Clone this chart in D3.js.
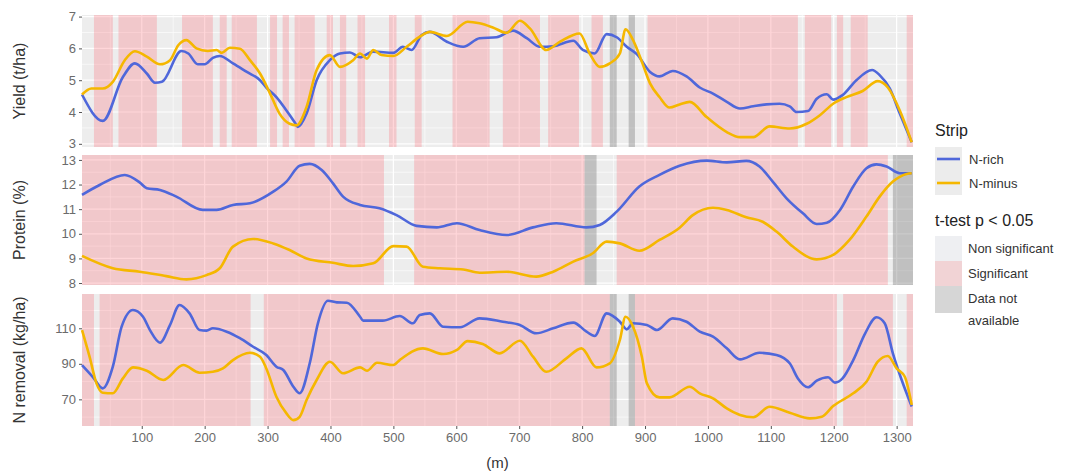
<!DOCTYPE html>
<html>
<head>
<meta charset="utf-8">
<script src="https://cdn.jsdelivr.net/npm/d3@7"></script>
<style>
  body { margin: 0; background: #fff; }
  svg text { font-family: "Liberation Sans", Arial, sans-serif; }
</style>
</head>
<body>
<script>
// distance along the strip (m)
var xTicks = [100, 200, 300, 400, 500, 600, 700, 800, 900, 1000, 1100, 1200, 1300];

// strips: [from, to, status]  s = significant, n = non significant, na = data not available
var yieldStrips = [[5,24,"n"],[24,54,"s"],[54,63,"n"],[63,124,"s"],[124,164,"n"],[164,213,"s"],[213,224,"n"],[224,235,"s"],[235,243,"n"],[243,283,"s"],[283,304,"n"],[304,315,"s"],[315,324,"n"],[324,334,"s"],[334,343,"n"],[343,375,"s"],[375,394,"n"],[394,404,"s"],[404,415,"n"],[415,425,"s"],[425,443,"n"],[443,455,"s"],[455,493,"n"],[493,505,"s"],[505,534,"n"],[534,545,"s"],[545,594,"n"],[594,653,"s"],[653,674,"n"],[674,733,"s"],[733,746,"n"],[746,795,"s"],[795,815,"n"],[815,833,"s"],[833,844,"n"],[844,855,"na"],[855,874,"n"],[874,884,"na"],[884,904,"n"],[904,1143,"s"],[1143,1154,"n"],[1154,1196,"s"],[1196,1205,"n"],[1205,1215,"s"],[1215,1227,"n"],[1227,1254,"s"],[1254,1316,"n"],[1316,1326,"s"]];
var proteinStrips = [[5,485,"s"],[485,533,"n"],[533,804,"s"],[804,823,"na"],[823,855,"n"],[855,1286,"s"],[1286,1294,"n"],[1294,1326,"na"]];
var nremStrips = [[5,24,"s"],[24,33,"n"],[33,273,"s"],[273,294,"n"],[294,844,"s"],[844,855,"na"],[855,874,"n"],[874,884,"na"],[884,1205,"s"],[1205,1215,"n"],[1215,1294,"s"],[1294,1316,"n"],[1316,1326,"s"]];

// Yield (t/ha)
var yieldRich = [[5,4.55],[38,3.72],[70,5.1],[89,5.53],[108,5.21],[121,4.92],[132,4.95],[163,5.92],[174,5.84],[189,5.5],[200,5.5],[213,5.7],[224,5.76],[245,5.53],[267,5.26],[288,5.0],[298,4.77],[314,4.47],[330,4.05],[343,3.68],[348,3.53],[362,3.95],[378,5.0],[399,5.63],[415,5.84],[431,5.87],[447,5.72],[468,5.9],[500,5.86],[515,6.05],[529,5.95],[545,6.42],[558,6.52],[585,6.21],[611,6.05],[637,6.32],[664,6.35],[690,6.56],[712,6.32],[733,6.05],[754,6.07],[786,6.24],[801,5.95],[820,5.84],[839,6.45],[855,6.35],[871,6.05],[887,5.82],[908,5.26],[923,5.12],[944,5.29],[966,5.12],[987,4.77],[1008,4.58],[1030,4.32],[1051,4.11],[1072,4.18],[1093,4.24],[1114,4.26],[1130,4.18],[1141,4.0],[1159,4.03],[1173,4.42],[1189,4.56],[1199,4.39],[1214,4.53],[1236,5.0],[1261,5.32],[1273,5.16],[1289,4.74],[1305,3.95],[1324,3.05]];
var yieldMinus = [[5,4.55],[20,4.74],[38,4.74],[54,4.95],[73,5.63],[89,5.91],[108,5.74],[129,5.5],[145,5.63],[158,6.1],[171,6.26],[187,6.0],[205,5.92],[219,5.95],[227,5.86],[240,6.02],[256,5.99],[272,5.63],[288,5.21],[304,4.58],[319,3.95],[335,3.63],[346,3.58],[362,4.16],[378,5.32],[399,5.79],[415,5.42],[436,5.63],[447,5.84],[458,5.68],[468,5.95],[481,5.79],[500,5.76],[521,6.05],[542,6.37],[558,6.52],[585,6.39],[618,6.84],[637,6.79],[658,6.66],[680,6.49],[701,6.87],[717,6.63],[743,5.95],[765,6.21],[796,6.47],[812,5.84],[828,5.42],[844,5.53],[860,5.84],[869,6.6],[881,6.26],[895,5.58],[908,4.9],[923,4.47],[939,4.14],[955,4.24],[971,4.32],[998,3.84],[1030,3.37],[1051,3.21],[1072,3.21],[1098,3.55],[1130,3.48],[1157,3.63],[1178,3.9],[1199,4.26],[1220,4.47],[1246,4.66],[1270,4.97],[1286,4.77],[1305,4.05],[1324,3.05]];

// Protein (%)
var proteinRich = [[5,11.58],[33,11.98],[73,12.39],[97,12.08],[108,11.85],[129,11.78],[155,11.51],[197,10.97],[219,10.97],[245,11.17],[272,11.24],[309,11.71],[330,12.12],[351,12.76],[367,12.84],[386,12.59],[404,12.05],[420,11.51],[447,11.17],[478,11.04],[505,10.76],[537,10.32],[569,10.26],[601,10.43],[637,10.15],[680,9.95],[722,10.26],[759,10.43],[807,10.26],[828,10.36],[855,10.9],[891,11.92],[923,12.39],[955,12.76],[998,12.97],[1030,12.9],[1061,12.96],[1082,12.73],[1103,12.12],[1125,11.44],[1151,10.83],[1173,10.4],[1189,10.45],[1210,10.97],[1231,11.92],[1252,12.66],[1268,12.82],[1284,12.73],[1305,12.46],[1324,12.46]];
var proteinMinus = [[5,9.1],[54,8.6],[97,8.46],[139,8.28],[171,8.15],[203,8.32],[224,8.6],[245,9.48],[277,9.79],[309,9.61],[335,9.34],[362,9.0],[404,8.82],[436,8.69],[468,8.8],[500,9.5],[521,9.48],[547,8.66],[574,8.6],[611,8.55],[637,8.42],[680,8.46],[727,8.26],[754,8.46],[786,8.87],[817,9.21],[839,9.68],[860,9.61],[891,9.31],[923,9.75],[955,10.25],[976,10.76],[1008,11.06],[1030,10.97],[1061,10.67],[1087,10.49],[1109,10.09],[1135,9.48],[1173,8.96],[1199,9.14],[1225,9.75],[1252,10.7],[1273,11.51],[1294,12.12],[1316,12.43],[1324,12.46]];

// N removal (kg/ha)
var nremRich = [[5,89.3],[22,82.7],[38,76.2],[54,88.4],[68,110.9],[86,120.3],[102,116.5],[113,109],[129,101.9],[145,111.9],[160,123.1],[176,118.4],[192,109],[203,108.7],[213,110],[235,108.1],[256,104.4],[277,99.6],[298,95],[314,88.4],[325,86.5],[341,77.1],[351,73.4],[367,90.3],[380,112.8],[396,125.5],[410,124.6],[426,124.4],[447,116.5],[452,114.3],[483,114.3],[510,116.9],[531,112.8],[542,117.5],[558,118.4],[579,110.9],[606,110.6],[637,115.6],[674,113.7],[701,111.9],[727,107.2],[754,110],[786,113.2],[807,108.1],[820,105.7],[839,118.4],[860,113.7],[871,109.4],[881,112.8],[903,111.9],[919,109],[944,115.6],[966,113.7],[987,108.1],[1008,105.3],[1030,98.7],[1051,92.5],[1082,96.2],[1109,95],[1130,90.3],[1143,81.8],[1159,76.8],[1173,80.5],[1191,82.4],[1202,79.4],[1214,81.8],[1231,92.1],[1250,107.2],[1268,116.2],[1281,112.8],[1294,95.9],[1308,80.9],[1324,66]];
var nremMinus = [[5,109],[17,94],[28,79],[38,73.7],[54,73.4],[70,81.8],[86,88],[108,86.1],[134,80.9],[166,89.3],[192,85],[213,85.5],[229,87.4],[245,92.1],[272,96.2],[288,94],[298,87.4],[314,71.5],[330,62.1],[341,58.3],[351,60.2],[362,69.6],[378,80.9],[399,91.2],[420,84.7],[447,88],[458,86.1],[474,90.6],[500,89.3],[510,92.1],[547,98.7],[579,95.5],[601,97.8],[618,102.8],[642,101.2],[669,95.9],[701,103],[722,94],[743,85.5],[775,93.1],[799,98.7],[823,88],[844,90.3],[860,103.4],[869,116.5],[881,110.9],[895,94],[903,79],[923,71.1],[939,71.1],[971,77.1],[987,73.4],[1008,70.6],[1030,64.9],[1051,61.2],[1072,59.9],[1098,65.8],[1130,62.5],[1162,59.3],[1181,60.2],[1199,66.2],[1231,73.4],[1252,79.9],[1270,91.2],[1286,94.4],[1300,87.4],[1313,82.7],[1324,66.8]];

var W = 1067, H = 472;
var left = 82, right = 913;

var svg = d3.select("body").append("svg")
  .attr("width", W).attr("height", H);

var x = d3.scaleLinear().domain([5, 1326]).range([left, right]);

var stripFill = { s: "rgba(255,120,130,0.30)", n: "rgba(255,255,255,0.12)", na: "rgba(140,140,140,0.45)" };
var colRich = "#4f67da", colMinus = "#f5b700";

var panels = [
  { title: "Yield (t/ha)", top: 15, bottom: 147, domain: [2.9, 7.05], ticks: [3,4,5,6,7], minor: [3.5,4.5,5.5,6.5],
    strips: yieldStrips, rich: yieldRich, minus: yieldMinus },
  { title: "Protein (%)", top: 155, bottom: 285, domain: [7.92, 13.2], ticks: [8,9,10,11,12,13], minor: [8.5,9.5,10.5,11.5,12.5],
    strips: proteinStrips, rich: proteinRich, minus: proteinMinus },
  { title: "N removal (kg/ha)", top: 294, bottom: 426, domain: [55, 129.3], ticks: [70,90,110], minor: [60,80,100,120],
    strips: nremStrips, rich: nremRich, minus: nremMinus }
];

var xMinor = d3.range(50, 1326, 100);

panels.forEach(function(p, i) {
  var y = d3.scaleLinear().domain(p.domain).range([p.bottom, p.top]);
  var g = svg.append("g");

  g.append("rect")
    .attr("x", left).attr("y", p.top)
    .attr("width", right - left).attr("height", p.bottom - p.top)
    .attr("fill", "#ebebeb");

  // grid
  g.selectAll(".vmin").data(xMinor).enter().append("line")
    .attr("x1", function(d) { return x(d); }).attr("x2", function(d) { return x(d); })
    .attr("y1", p.top).attr("y2", p.bottom)
    .attr("stroke", "#fff").attr("stroke-width", 0.6);
  g.selectAll(".vmaj").data(xTicks).enter().append("line")
    .attr("x1", function(d) { return x(d); }).attr("x2", function(d) { return x(d); })
    .attr("y1", p.top).attr("y2", p.bottom)
    .attr("stroke", "#fff").attr("stroke-width", 1.2);
  g.selectAll(".hmin").data(p.minor).enter().append("line")
    .attr("x1", left).attr("x2", right)
    .attr("y1", function(d) { return y(d); }).attr("y2", function(d) { return y(d); })
    .attr("stroke", "#fff").attr("stroke-width", 0.6);
  g.selectAll(".hmaj").data(p.ticks).enter().append("line")
    .attr("x1", left).attr("x2", right)
    .attr("y1", function(d) { return y(d); }).attr("y2", function(d) { return y(d); })
    .attr("stroke", "#fff").attr("stroke-width", 1.2);

  // significance strips
  g.selectAll(".strip").data(p.strips).enter().append("rect")
    .attr("x", function(d) { return x(d[0]); })
    .attr("width", function(d) { return x(d[1]) - x(d[0]); })
    .attr("y", p.top).attr("height", p.bottom - p.top)
    .attr("fill", function(d) { return stripFill[d[2]]; });

  var line = d3.line()
    .x(function(d) { return x(d[0]); })
    .y(function(d) { return y(d[1]); })
    .curve(d3.curveMonotoneX);

  g.append("path").datum(p.rich).attr("d", line)
    .attr("fill", "none").attr("stroke", colRich).attr("stroke-width", 2.6);
  g.append("path").datum(p.minus).attr("d", line)
    .attr("fill", "none").attr("stroke", colMinus).attr("stroke-width", 2.6);

  // y axis
  var ya = svg.append("g").attr("transform", "translate(" + left + ",0)")
    .call(d3.axisLeft(y).tickValues(p.ticks).tickSize(3).tickPadding(3).tickFormat(d3.format("d")));
  ya.select(".domain").remove();
  ya.selectAll("line").attr("stroke", "#555");
  ya.selectAll("text").attr("fill", "#6b6b6b").style("font-size", "13px");

  svg.append("text")
    .attr("transform", "translate(25," + ((p.top + p.bottom) / 2) + ") rotate(-90)")
    .attr("text-anchor", "middle")
    .attr("fill", "#333")
    .style("font-size", "16px")
    .text(p.title);

  if (i === panels.length - 1) {
    var xa = svg.append("g").attr("transform", "translate(0," + p.bottom + ")")
      .call(d3.axisBottom(x).tickValues(xTicks).tickSize(3).tickPadding(4).tickFormat(d3.format("d")));
    xa.select(".domain").remove();
    xa.selectAll("line").attr("stroke", "#555");
    xa.selectAll("text").attr("fill", "#6b6b6b").style("font-size", "13px");
  }
});

svg.append("text")
  .attr("x", (left + right) / 2).attr("y", 468)
  .attr("text-anchor", "middle").attr("fill", "#333")
  .style("font-size", "15px")
  .text("(m)");

// legend
var lg = svg.append("g");
lg.append("text").attr("x", 935).attr("y", 136).attr("fill", "#222")
  .style("font-size", "16px").text("Strip");

var lineKeys = [["N-rich", colRich], ["N-minus", colMinus]];
lineKeys.forEach(function(k, i) {
  var cy = 159 + i * 24;
  lg.append("rect").attr("x", 935).attr("y", cy - 12).attr("width", 27).attr("height", 24).attr("fill", "#ececec");
  lg.append("line").attr("x1", 937).attr("x2", 960).attr("y1", cy).attr("y2", cy)
    .attr("stroke", k[1]).attr("stroke-width", 2.6);
  lg.append("text").attr("x", 969).attr("y", cy + 5).attr("fill", "#333")
    .style("font-size", "13px").text(k[0]);
});

lg.append("text").attr("x", 935).attr("y", 226).attr("fill", "#222")
  .style("font-size", "16px").text("t-test p < 0.05");

var fillKeys = [["Non significant", "#eeeff2"], ["Significant", "#f1d3d5"], ["Data not", "#d6d6d6", "available"]];
fillKeys.forEach(function(k, i) {
  var ty = 236 + i * 25;
  lg.append("rect").attr("x", 935).attr("y", ty).attr("width", 27).attr("height", i === 2 ? 27 : 25).attr("fill", k[1]);
  lg.append("text").attr("x", 968).attr("y", ty + 17).attr("fill", "#333")
    .style("font-size", "13px").text(k[0]);
  if (k[2]) {
    lg.append("text").attr("x", 968).attr("y", ty + 39).attr("fill", "#333")
      .style("font-size", "13px").text(k[2]);
  }
});
</script>
</body>
</html>
